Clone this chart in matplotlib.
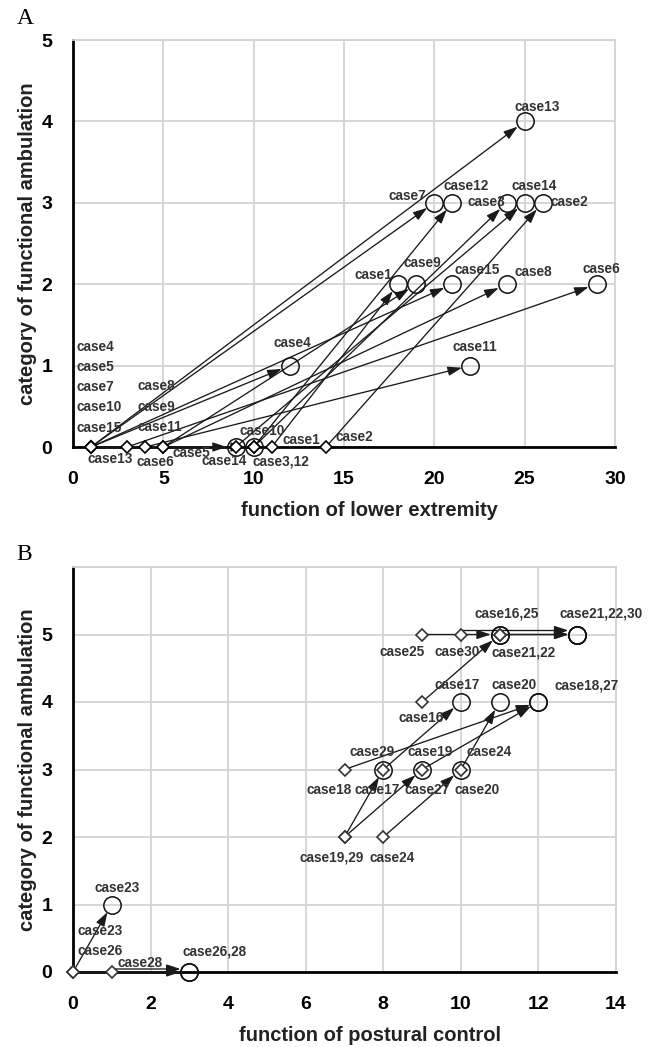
import matplotlib
matplotlib.use('Agg')
import matplotlib.pyplot as plt
from matplotlib.transforms import ScaledTranslation

plt.rcParams['font.family'] = ['Liberation Sans', 'DejaVu Sans']

# ---------------- Panel A data ----------------
a_cases = ['case1', 'case2', 'case3', 'case4', 'case5', 'case6', 'case7', 'case8',
           'case9', 'case10', 'case11', 'case12', 'case13', 'case14', 'case15']
a_pre_x = [11, 14, 10, 1, 1, 3, 1, 5, 5, 1, 4, 10, 1, 9, 1]
a_pre_y = [0, 0, 0, 0, 0, 0, 0, 0, 0, 0, 0, 0, 0, 0, 0]
a_post_x = [18, 26, 24, 12, 9, 29, 20, 24, 19, 10, 22, 21, 25, 25, 21]
a_post_y = [2, 3, 3, 1, 0, 2, 3, 2, 2, 0, 1, 3, 4, 3, 2]

a_xticks = [0, 5, 10, 15, 20, 25, 30]
a_yticks = [0, 1, 2, 3, 4, 5]

# labels: text, anchor x, anchor y, dx px, dy px (down +), ha
a_labels = [
    ('case4', 1, 0, -15, -100, 'left'), ('case5', 1, 0, -15, -80, 'left'),
    ('case7', 1, 0, -15, -60, 'left'), ('case10', 1, 0, -15, -40, 'left'),
    ('case15', 1, 0, -15, -19, 'left'), ('case13', 1, 0, 19, 12, 'center'),
    ('case8', 5, 0, -26, -61, 'left'), ('case9', 5, 0, -26, -40, 'left'),
    ('case11', 5, 0, -26, -20, 'left'), ('case6', 3, 0, 28, 15, 'center'),
    ('case14', 9, 0, -11, 14, 'center'), ('case3,12', 10, 0, 27, 14, 'center'),
    ('case1', 11, 0, 11, -7, 'left'), ('case2', 14, 0, 10, -10, 'left'),
    ('case5', 9, 0, -44, 6, 'center'), ('case10', 10, 0, 8, -16, 'center'),
    ('case13', 25, 4, 13, -14, 'center'), ('case7', 20, 3, -8, -7, 'right'),
    ('case12', 21, 3, 14, -17, 'center'), ('case3', 24, 3, -1, -1, 'right'),
    ('case14', 25, 3, 10, -17, 'center'), ('case2', 26, 3, 8, -1, 'left'),
    ('case1', 18, 2, -6, -9, 'right'), ('case9', 19, 2, 6, -21, 'center'),
    ('case15', 21, 2, 25, -14, 'center'), ('case8', 24, 2, 8, -12, 'left'),
    ('case6', 29, 2, 4, -15, 'center'), ('case4', 12, 1, 3, -23, 'center'),
    ('case11', 22, 1, 4, -19, 'center'),
]

# ---------------- Panel B data ----------------
b_cases = ['case16', 'case17', 'case18', 'case19', 'case20', 'case21', 'case22', 'case23',
           'case24', 'case25', 'case26', 'case27', 'case28', 'case29', 'case30']
b_pre_x = [9, 8, 7, 7, 10, 11, 11, 0, 8, 9, 0, 9, 1, 7, 10]
b_pre_y = [4, 3, 3, 2, 3, 5, 5, 0, 2, 5, 0, 3, 0, 2, 5]
b_post_x = [11, 10, 12, 9, 11, 13, 13, 1, 10, 11, 3, 12, 3, 8, 13]
b_post_y = [5, 4, 4, 3, 4, 5, 5, 1, 3, 5, 0, 4, 0, 3, 5]

b_xticks = [0, 2, 4, 6, 8, 10, 12, 14]
b_yticks = [0, 1, 2, 3, 4, 5, 6]
b_yticklabels = ['0', '1', '2', '3', '4', '5', '']

b_labels = [
    ('case16,25', 11, 5, 7, -21, 'center'), ('case21,22,30', 13, 5, 24, -21, 'center'),
    ('case25', 9, 5, -20, 18, 'center'), ('case30', 10, 5, -4, 18, 'center'),
    ('case21,22', 11, 5, 24, 18, 'center'), ('case17', 10, 4, -4, -17, 'center'),
    ('case20', 11, 4, 14, -17, 'center'), ('case18,27', 12, 4, 48, -17, 'center'),
    ('case16', 9, 4, -1, 16, 'center'), ('case29', 8, 3, -11, -17, 'center'),
    ('case19', 9, 3, 8, -17, 'center'), ('case24', 10, 3, 6, -17, 'left'),
    ('case18', 7, 3, -15, 21, 'center'), ('case17', 8, 3, -6, 21, 'center'),
    ('case27', 9, 3, 5, 21, 'center'), ('case20', 10, 3, 16, 21, 'center'),
    ('case19,29', 7, 2, -13, 21, 'center'), ('case24', 8, 2, 9, 21, 'center'),
    ('case23', 1, 1, 5, -16, 'center'), ('case23', 0, 0, 4, -41, 'left'),
    ('case26', 0, 0, 4, -21, 'left'), ('case28', 1, 0, 6, -9, 'left'),
    ('case26,28', 3, 0, 25, -20, 'center'),
]
# small vertical shifts (px) so overlapping arrows show as double lines
b_line_shift = {'case28': 3, 'case30': 4}

W, H = 659, 1047
fig = plt.figure(figsize=(W / 100, H / 100), dpi=100)

GRID = '#d3d3d3'
LAB_COL = '#333333'


def px_to_pt(v):
    return v * 72.0 / fig.dpi


def style_axes(ax, xlim, ylim, xticks, yticks, yticklabels, xlabel):
    ax.set_xlim(*xlim)
    ax.set_ylim(*ylim)
    ax.set_xticks(xticks)
    ax.set_yticks(yticks)
    ax.set_xticklabels([str(t) for t in xticks])
    ax.set_yticklabels(yticklabels)
    ax.grid(True, color=GRID, lw=1.3)
    ax.set_axisbelow(True)
    for s in ['left', 'bottom']:
        ax.spines[s].set_color('black')
        ax.spines[s].set_linewidth(2)
        ax.spines[s].set_zorder(2.5)
    for s in ['top', 'right']:
        ax.spines[s].set_color(GRID)
        ax.spines[s].set_linewidth(1.3)
    ax.tick_params(length=0, labelsize=14)
    ax.tick_params(axis='x', pad=17)
    ax.tick_params(axis='y', pad=15)
    for t in ax.get_xticklabels() + ax.get_yticklabels():
        t.set_fontweight('bold')
    ax.set_xlabel(xlabel, fontsize=14.5, fontweight='bold', color='#222222')
    ax.set_ylabel('category of functional ambulation', fontsize=14.5,
                  fontweight='bold', color='#222222')
    ax.xaxis.set_label_coords(0.547, -0.133)
    ax.yaxis.set_label_coords(-0.066, 0.5)


def draw_panel(ax, cases, prex, prey, postx, posty, labels, shifts, dcol):
    for i, c in enumerate(cases):
        off = shifts.get(c, 0)
        tr = ax.transData + ScaledTranslation(0, px_to_pt(off) / 72.0, fig.dpi_scale_trans)
        ax.annotate('', xy=(postx[i], posty[i]), xytext=(prex[i], prey[i]),
                    xycoords=tr, textcoords=tr,
                    arrowprops=dict(arrowstyle='-|>,head_length=0.85,head_width=0.28',
                                    color='#1a1a1a', lw=0.95, shrinkA=0, shrinkB=6.3,
                                    mutation_scale=10),
                    annotation_clip=False, zorder=3)
    ax.plot(prex, prey, linestyle='none', marker='D', ms=6.2, mfc='white',
            mec=dcol, mew=1.2, zorder=4, clip_on=False)
    ax.plot(postx, posty, linestyle='none', marker='o', ms=12.5, mfc='none',
            mec='#111111', mew=1.1, zorder=5, clip_on=False)
    for text, x, y, dx, dy, ha in labels:
        ax.annotate(text, (x, y), xytext=(px_to_pt(dx), -px_to_pt(dy)),
                    textcoords='offset points', ha=ha, va='center',
                    fontsize=9.8, fontweight='bold', color=LAB_COL,
                    annotation_clip=False, zorder=6)


axA = fig.add_axes([73 / W, 1 - 447 / H, (615 - 73) / W, (447 - 40) / H])
style_axes(axA, (0, 30), (0, 5), a_xticks, a_yticks, [str(t) for t in a_yticks],
           'function of lower extremity')
draw_panel(axA, a_cases, a_pre_x, a_pre_y, a_post_x, a_post_y, a_labels, {}, 'black')

axB = fig.add_axes([73 / W, 1 - 972 / H, (616 - 73) / W, (972 - 567) / H])
style_axes(axB, (0, 14), (0, 6), b_xticks, b_yticks, b_yticklabels,
           'function of postural control')
draw_panel(axB, b_cases, b_pre_x, b_pre_y, b_post_x, b_post_y, b_labels,
           b_line_shift, '#333333')

fig.text(25 / W, 1 - 18 / H, 'A', family=['Liberation Serif', 'DejaVu Serif'],
         fontsize=17, ha='center', va='center')
fig.text(24 / W, 1 - 555 / H, 'B', family=['Liberation Serif', 'DejaVu Serif'],
         fontsize=17, ha='center', va='center')

fig.savefig('out.png', dpi=100)
